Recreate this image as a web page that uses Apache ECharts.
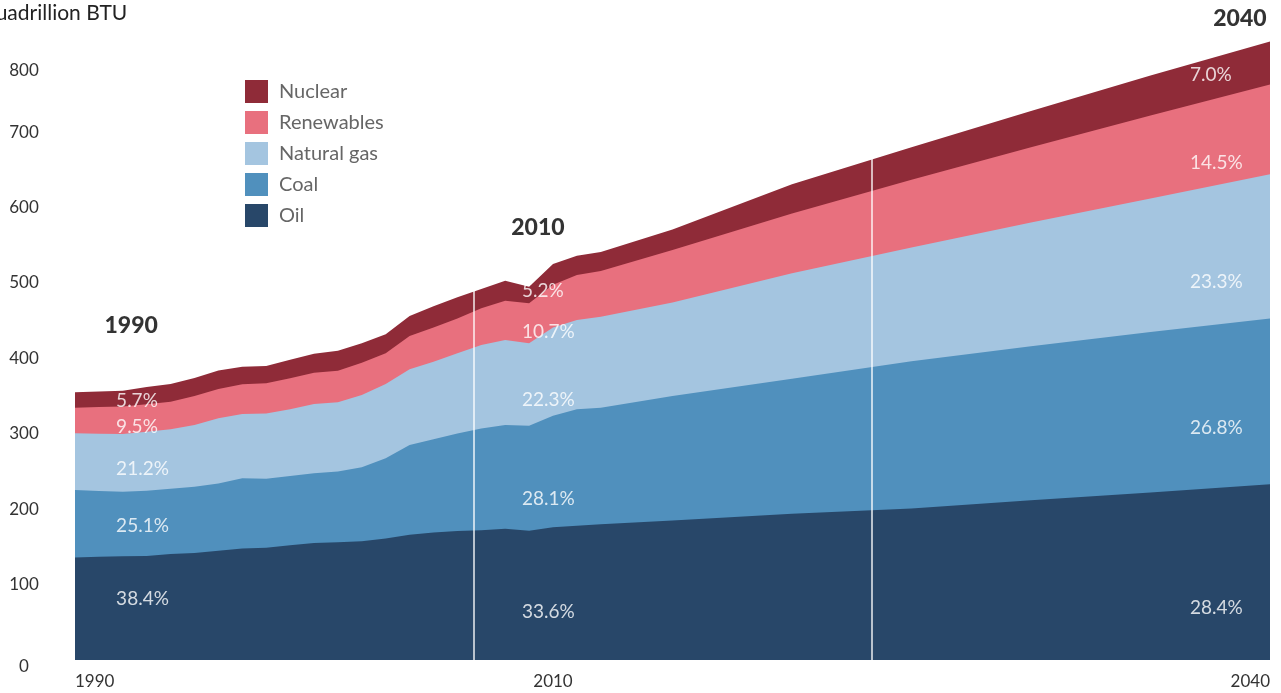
<!DOCTYPE html>
<html>
<head>
<meta charset="utf-8">
<title>World energy consumption by fuel</title>
<script src="https://cdn.jsdelivr.net/npm/echarts@6/dist/echarts.min.js"></script>
<style>
  html, body { margin: 0; padding: 0; background: #fff; }
  #chart { width: 1281px; height: 693px; }
</style>
</head>
<body>
<div id="chart"></div>
<script>
  // years (history annual, projection every 5 years)
  const years = [1990, 1991, 1992, 1993, 1994, 1995, 1996, 1997, 1998, 1999,
                 2000, 2001, 2002, 2003, 2004, 2005, 2006, 2007, 2008, 2009,
                 2010, 2011, 2012, 2015, 2020, 2025, 2030, 2035, 2040];

  // quadrillion BTU
  const oil = [136, 137, 137.5, 138, 140.5, 142, 145, 148, 149, 152,
               155, 156, 157.5, 161, 166, 169, 171, 172, 174, 171.5,
               176, 178, 180, 185, 194, 201, 212, 222, 233];
  const coal = [89.4, 87, 85.5, 86.5, 86.5, 87.8, 89, 93, 91.5, 92,
                92.5, 93.8, 98, 106.4, 119, 123.6, 129.5, 135, 137.6, 139.2,
                147.9, 154.4, 154.5, 165, 179, 195, 204, 213, 220];
  const gas = [75.2, 76, 76.7, 78.3, 79, 81.8, 86.5, 85.2, 86.5, 88.4,
               92, 91.9, 95.9, 98.6, 100.5, 103, 106.2, 110.7, 112.7, 109.3,
               117.1, 118.5, 120.8, 124, 140, 151, 164, 177, 191];
  const renewables = [34, 35.5, 36.3, 36.2, 36.6, 38.4, 38.9, 39.4, 39.9, 41.1,
                      41.5, 42, 42.9, 40.7, 44.2, 45.4, 46.3, 48.7, 52.2, 53,
                      56.5, 59.6, 60.5, 69.7, 79, 90, 100, 110, 119];
  const nuclear = [20.4, 20.5, 21, 23, 23.4, 24, 24.6, 23.4, 23.1, 24.5,
                   25, 26.3, 25.7, 25.3, 26.3, 28, 28, 25.6, 26.5, 22,
                   27.5, 25.5, 25.2, 27.3, 39, 43, 48, 53, 57];

  const names = ['Oil', 'Coal', 'Natural gas', 'Renewables', 'Nuclear'];
  const colors = ['#284769', '#5090bd', '#a4c5e0', '#e8707e', '#8f2b38'];

  // share of total, oil -> nuclear
  const shares1990 = ['38.4%', '25.1%', '21.2%', '9.5%', '5.7%'];
  const shares2010 = ['33.6%', '28.1%', '22.3%', '10.7%', '5.2%'];
  const shares2040 = ['28.4%', '26.8%', '23.3%', '14.5%', '7.0%'];
  // where the share labels sit (x in years, y in quadrillion BTU)
  const shareX = [1991.72, 2008.7, 2036.65];
  const shareY1990 = [81, 178, 253, 309, 343.5];
  const shareY2010 = [64, 213.5, 345, 435.5, 489];
  const shareY2040 = [69, 307.6, 501.3, 659, 775.8];

  const headlines = ['1990', '2010', '2040'];
  const headlineX = [1992.35, 2009.37, 2038.74];
  const headlineY = [443, 573, 851];

  const dividerYears = [2006.67, 2023.33];

  const font = 'Lato, "Source Sans Pro", sans-serif';
  const allSeries = [oil, coal, gas, renewables, nuclear];

  // stacking by hand: the value x axis can't stack, so each band is drawn
  // from 0 up to its running total and the lower bands are painted over it
  let running = years.map(() => 0);
  let stacked = allSeries.map(arr => {
    running = running.map((v, i) => v + arr[i]);
    return running.slice();
  });

  let shareData = [];
  [[shares1990, shareY1990], [shares2010, shareY2010], [shares2040, shareY2040]].forEach((pair, c) => {
    pair[0].forEach((txt, i) => shareData.push({name: txt, value: [shareX[c], pair[1][i]]}));
  });
  let headlineData = headlines.map((t, i) => ({name: t, value: [headlineX[i], headlineY[i]]}));

  let series = [];
  for (let k = names.length - 1; k >= 0; k--) {
    series.push({
      name: names[k],
      type: 'line',
      symbol: 'none',
      lineStyle: {width: 0},
      areaStyle: {color: colors[k], opacity: 1},
      itemStyle: {color: colors[k]},
      data: years.map((y, i) => [y, stacked[k][i]])
    });
  }
  // white dividers on top of the areas (oil is drawn last)
  series[series.length - 1].markLine = {
    silent: true,
    symbol: 'none',
    label: {show: false},
    lineStyle: {color: '#fff', width: 1.5, type: 'solid', opacity: 0.9},
    data: dividerYears.map(y => ({xAxis: y}))
  };
  series.push({
    name: 'shares',
    type: 'scatter',
    symbolSize: 0,
    clip: false,
    silent: true,
    z: 5,
    label: {show: true, position: 'right', distance: 0, formatter: '{b}',
            color: '#fff', fontSize: 19, fontFamily: font, textBorderWidth: 0},
    data: shareData
  });
  series.push({
    name: 'years',
    type: 'scatter',
    symbolSize: 0,
    clip: false,
    silent: true,
    z: 5,
    label: {show: true, position: 'inside', formatter: '{b}',
            color: '#000', fontSize: 23, fontWeight: 900, fontFamily: font,
            textBorderWidth: 0},
    data: headlineData
  });

  let myChart = echarts.init(document.getElementById('chart'));
  myChart.setOption({
    animation: false,
    textStyle: {fontFamily: font},
    title: {
      text: 'Quadrillion BTU',
      left: -26,
      top: -2,
      textStyle: {fontSize: 21, fontWeight: 'normal', color: '#222', fontFamily: font}
    },
    legend: {
      data: names.slice().reverse(),
      orient: 'vertical',
      left: 240,
      top: 75,
      icon: 'rect',
      itemWidth: 23,
      itemHeight: 23,
      itemGap: 8,
      textStyle: {fontSize: 20, color: '#666', fontFamily: font, padding: [0, 0, 0, 6]}
    },
    grid: {left: 75, right: 11, top: 19, bottom: 33},
    xAxis: {
      type: 'value',
      min: 1990,
      max: 2040,
      interval: 10,
      splitLine: {show: false},
      axisLine: {show: false},
      axisTick: {show: false},
      axisLabel: {
        customValues: [1990, 2010, 2040],
        formatter: v => String(v),
        alignMinLabel: 'left',
        alignMaxLabel: 'right',
        margin: 13,
        fontSize: 17,
        color: '#333',
        fontFamily: font
      }
    },
    yAxis: {
      type: 'value',
      min: 0,
      max: 850,
      interval: 100,
      splitLine: {show: false},
      axisLine: {show: false},
      axisTick: {show: false},
      axisLabel: {
        showMaxLabel: false,
        align: 'center',
        margin: 51,
        fontSize: 17,
        color: '#333',
        fontFamily: font,
        // the top and bottom labels sit a little low in the original
        formatter: v => v === 800 ? '{low|800}' : (v === 0 ? '{zero|0}' : String(v)),
        rich: {
          low: {padding: [28, 0, 0, 0], fontSize: 17, color: '#333', fontFamily: font},
          zero: {padding: [14, 0, 0, 0], fontSize: 17, color: '#333', fontFamily: font}
        }
      }
    },
    series: series
  });
</script>
</body>
</html>
